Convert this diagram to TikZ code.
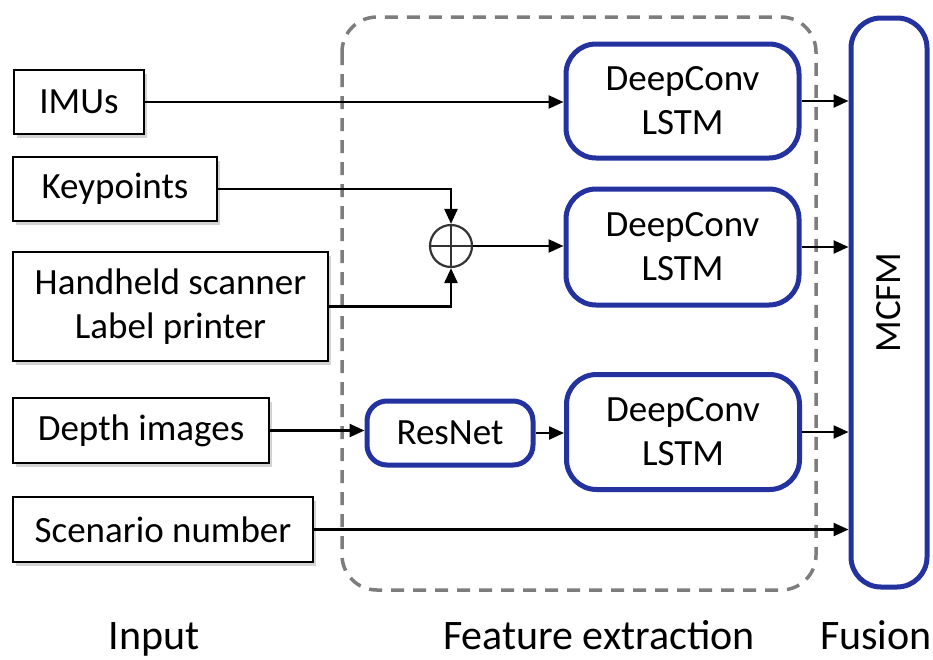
\documentclass[tikz,border=0pt]{standalone}
\usepackage{fontspec}
\setmainfont{Carlito}
\usetikzlibrary{arrows.meta,shadows}
\definecolor{boxblue}{RGB}{36,50,160}
\definecolor{dashgray}{RGB}{125,125,125}
\begin{document}
\begin{tikzpicture}[x=1pt,y=-1pt,
  font=\fontsize{37}{44}\selectfont,
  inbox/.style={draw=black,line width=2.4pt,fill=white,minimum height=64pt,inner sep=0pt,align=center,
    drop shadow={shadow xshift=3pt,shadow yshift=-4pt,opacity=0.35,fill=gray}},
  netbox/.style={draw=boxblue,line width=5pt,fill=white,rounded corners=30pt,inner sep=0pt,align=center},
  conn/.style={line width=2.4pt,-{Triangle[length=15pt,width=13pt]}},
  lbl/.style={inner sep=0pt,anchor=base,font=\fontsize{42}{50}\selectfont}]
\useasboundingbox (0,0) rectangle (933,659);
% feature extraction frame
\draw[dashgray,line width=3.5pt,dash pattern=on 13pt off 9pt,rounded corners=35pt] (342,17) rectangle (816,590);
% inputs
\node[inbox,minimum width=130pt] (imu) at (79,102) {IMUs};
\node[inbox,minimum width=204pt] (kp) at (115,189) {Keypoints};
\node[inbox,minimum width=315pt,minimum height=109pt] (hs) at (170.5,306.5) {Handheld scanner\\Label printer};
\node[inbox,minimum width=256pt,minimum height=65pt] (dep) at (141,430.5) {Depth images};
\node[inbox,minimum width=300pt,minimum height=65pt] (scn) at (163,529.5) {Scenario number};
% networks
\node[netbox,minimum width=233pt,minimum height=114pt] (dc1) at (682.5,101) {DeepConv\\LSTM};
\node[netbox,minimum width=233pt,minimum height=116pt] (dc2) at (682.5,247) {DeepConv\\LSTM};
\node[netbox,minimum width=233pt,minimum height=115pt] (dc3) at (683,432) {DeepConv\\LSTM};
\node[netbox,rounded corners=20pt,minimum width=166pt,minimum height=64pt] (res) at (450,433) {ResNet};
\node[netbox,minimum width=76pt,minimum height=569pt] (mcfm) at (889,302.5) {\rotatebox{90}{MCFM}};
% oplus
\node[draw=black!80,line width=2.2pt,circle,minimum size=42pt,inner sep=0pt] (op) at (451,246) {};
\draw[black!80,line width=2.2pt] (op.north) -- (op.south) (op.west) -- (op.east);
% connectors
\draw[conn] (imu.east) -- (imu.east -| dc1.west);
\draw[conn] (kp.east) -| (op.north);
\draw[conn] (hs.east) -| (op.south);
\draw[conn] (op.east) -- (op.east -| dc2.west);
\draw[conn] (dep.east) -- (dep.east -| res.west);
\draw[conn] (res.east) -- (res.east -| dc3.west);
\draw[conn] (dc1.east) -- (dc1.east -| mcfm.west);
\draw[conn] (dc2.east) -- (dc2.east -| mcfm.west);
\draw[conn] (dc3.east) -- (dc3.east -| mcfm.west);
\draw[conn] (scn.east) -- (scn.east -| mcfm.west);
% stage labels
\node[lbl] (lin) at (154,649) {Input};
\node[lbl] (lfe) at (599,649) {Feature extraction};
\node[lbl] (lfu) at (876,649) {Fusion};
\end{tikzpicture}
\end{document}
